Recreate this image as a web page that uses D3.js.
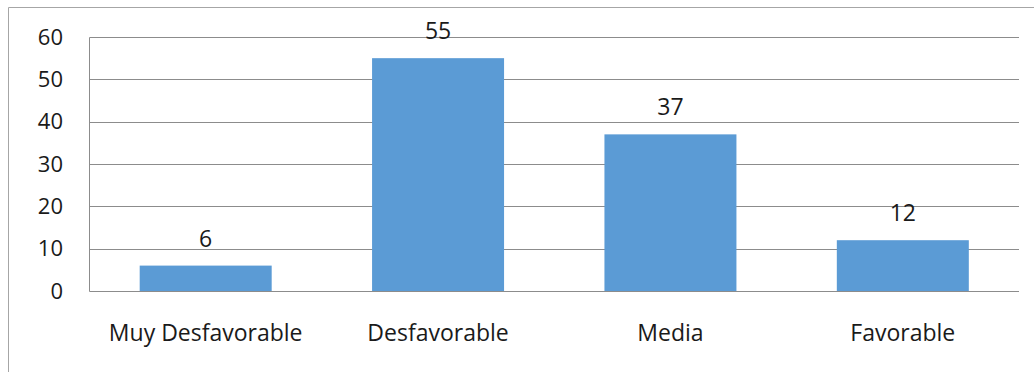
<!DOCTYPE html>
<html>
<head>
<meta charset="utf-8">
<script src="https://cdn.jsdelivr.net/npm/d3@7"></script>
<style>
  html, body { margin: 0; padding: 0; background: #fff; }
  svg { display: block; }
  text { font-family: "Open Sans", "Noto Sans", sans-serif; fill: #1a1a1a; }
</style>
</head>
<body>
<svg id="chart" width="1034" height="372"></svg>
<script>
// Category names and counts for each rating
const categories = ["Muy Desfavorable", "Desfavorable", "Media", "Favorable"];
const values = [6, 55, 37, 12];
const yTicks = [0, 10, 20, 30, 40, 50, 60];

const W = 1034, H = 372;
const plot = { left: 89.5, right: 1019, top: 37, bottom: 291 };
const fontSize = 23;

const svg = d3.select("#chart");

// Outer frame (top and left edges visible within the canvas)
svg.append("path")
  .attr("d", `M8.5,${H} V7.5 H${W}`)
  .attr("fill", "none")
  .attr("stroke", "#a6a6a6")
  .attr("stroke-width", 1);

const x = d3.scaleBand()
  .domain(categories)
  .range([plot.left, plot.right])
  .paddingInner(0.432)
  .paddingOuter(0.216);

const y = d3.scaleLinear()
  .domain([0, 60])
  .range([plot.bottom, plot.top]);

// Horizontal gridlines
svg.append("g")
  .selectAll("line")
  .data(yTicks)
  .join("line")
  .attr("x1", plot.left)
  .attr("x2", plot.right)
  .attr("y1", d => Math.round(y(d)) + 0.5)
  .attr("y2", d => Math.round(y(d)) + 0.5)
  .attr("stroke", "#8c8c8c")
  .attr("stroke-width", 1);

// Vertical value axis line
svg.append("line")
  .attr("x1", plot.left).attr("x2", plot.left)
  .attr("y1", Math.round(y(60)) + 0.5)
  .attr("y2", Math.round(y(0)) + 0.5)
  .attr("stroke", "#8c8c8c");

// Y tick labels
svg.append("g")
  .selectAll("text")
  .data(yTicks)
  .join("text")
  .attr("x", 63)
  .attr("y", d => y(d))
  .attr("dy", "0.35em")
  .attr("text-anchor", "end")
  .attr("font-size", 22)
  .text(d => d);

// Bars
svg.append("g")
  .selectAll("rect")
  .data(values)
  .join("rect")
  .attr("x", (d, i) => x(categories[i]))
  .attr("width", x.bandwidth())
  .attr("y", d => y(d))
  .attr("height", d => y(0) - y(d))
  .attr("fill", "#5b9bd5");

// Value labels above bars
svg.append("g")
  .selectAll("text")
  .data(values)
  .join("text")
  .attr("x", (d, i) => x(categories[i]) + x.bandwidth() / 2)
  .attr("y", d => y(d) - 19)
  .attr("text-anchor", "middle")
  .attr("font-size", fontSize)
  .text(d => d);

// Category labels
svg.append("g")
  .selectAll("text")
  .data(categories)
  .join("text")
  .attr("x", d => x(d) + x.bandwidth() / 2)
  .attr("y", 341)
  .attr("text-anchor", "middle")
  .attr("font-size", fontSize)
  .text(d => d);
</script>
</body>
</html>
